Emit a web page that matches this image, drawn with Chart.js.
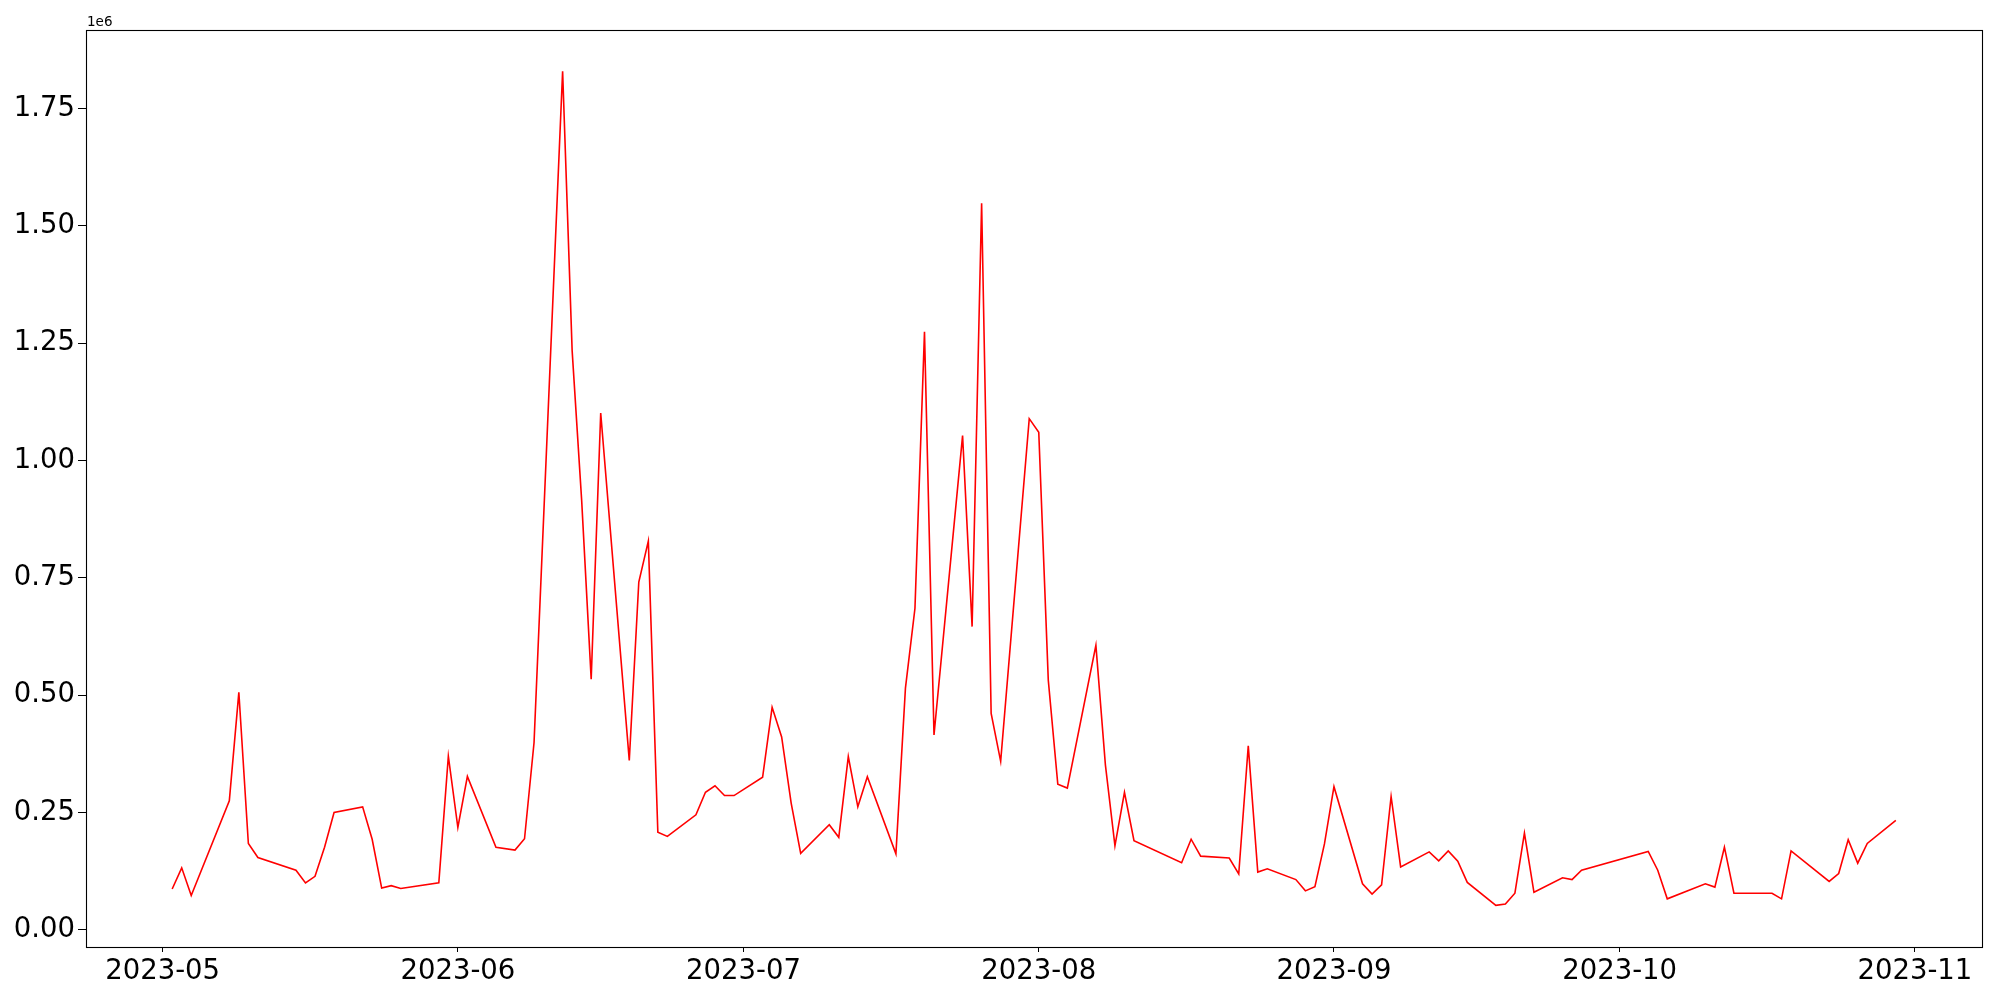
<!DOCTYPE html>
<html>
<head>
<meta charset="utf-8">
<script src="https://cdn.jsdelivr.net/npm/chart.js@4.4.1/dist/chart.umd.min.js"></script>
<style>
    html, body { margin: 0; padding: 0; background: #fff; }
    #wrap { width: 2000px; height: 1000px; }
</style>
</head>
<body>
<div id="wrap"><canvas id="chart" width="2000" height="1000"></canvas></div>
<script>
// Data (daily values, weekdays with gaps)
const dates = [
    '2023-05-02', '2023-05-03', '2023-05-04', '2023-05-08', '2023-05-09', '2023-05-10', '2023-05-11',
    '2023-05-15', '2023-05-16', '2023-05-17', '2023-05-18', '2023-05-19', '2023-05-22', '2023-05-23',
    '2023-05-24', '2023-05-25', '2023-05-26', '2023-05-30', '2023-05-31', '2023-06-01', '2023-06-02',
    '2023-06-05', '2023-06-07', '2023-06-08', '2023-06-09', '2023-06-12', '2023-06-13', '2023-06-14',
    '2023-06-15', '2023-06-16', '2023-06-19', '2023-06-20', '2023-06-21', '2023-06-22', '2023-06-23',
    '2023-06-26', '2023-06-27', '2023-06-28', '2023-06-29', '2023-06-30', '2023-07-03', '2023-07-04',
    '2023-07-05', '2023-07-06', '2023-07-07', '2023-07-10', '2023-07-11', '2023-07-12', '2023-07-13',
    '2023-07-14', '2023-07-17', '2023-07-18', '2023-07-19', '2023-07-20', '2023-07-21', '2023-07-24',
    '2023-07-25', '2023-07-26', '2023-07-27', '2023-07-28', '2023-07-31', '2023-08-01', '2023-08-02',
    '2023-08-03', '2023-08-04', '2023-08-07', '2023-08-08', '2023-08-09', '2023-08-10', '2023-08-11',
    '2023-08-16', '2023-08-17', '2023-08-18', '2023-08-21', '2023-08-22', '2023-08-23', '2023-08-24',
    '2023-08-25', '2023-08-28', '2023-08-29', '2023-08-30', '2023-08-31', '2023-09-01', '2023-09-04',
    '2023-09-05', '2023-09-06', '2023-09-07', '2023-09-08', '2023-09-11', '2023-09-12', '2023-09-13',
    '2023-09-14', '2023-09-15', '2023-09-18', '2023-09-19', '2023-09-20', '2023-09-21', '2023-09-22',
    '2023-09-25', '2023-09-26', '2023-09-27', '2023-10-04', '2023-10-05', '2023-10-06', '2023-10-10',
    '2023-10-11', '2023-10-12', '2023-10-13', '2023-10-17', '2023-10-18', '2023-10-19', '2023-10-23',
    '2023-10-24', '2023-10-25', '2023-10-26', '2023-10-27', '2023-10-30'
];

const values = [
    87000, 132000, 73000, 275000, 506000, 184000, 154000,
    127000, 100000, 114000, 176000, 250000, 262000, 193000,
    89000, 94000, 88000, 100000, 370000, 218000, 327000,
    176000, 170000, 194000, 399000, 1829000, 1234000, 915000,
    534000, 1101000, 361000, 741000, 828000, 208000, 199000,
    245000, 293000, 307000, 286000, 286000, 325000, 474000,
    411000, 270000, 163000, 224000, 197000, 369000, 262000,
    326000, 162000, 515000, 685000, 1274000, 415000, 1053000,
    646000, 1548000, 461000, 359000, 1089000, 1060000, 532000,
    310000, 302000, 606000, 351000, 179000, 293000, 190000,
    143000, 193000, 157000, 153000, 119000, 392000, 123000,
    130000, 107000, 83000, 92000, 183000, 305000, 98000,
    76000, 96000, 284000, 134000, 166000, 147000, 168000,
    146000, 101000, 52000, 55000, 78000, 206000, 80000,
    111000, 107000, 127000, 167000, 127000, 66000, 98000,
    91000, 176000, 78000, 78000, 66000, 168000, 103000,
    120000, 192000, 142000, 184000, 233000
];

// Tick labels
const monthTicks = ['2023-05', '2023-06', '2023-07', '2023-08', '2023-09', '2023-10', '2023-11'];
const yTicks = [0, 250000, 500000, 750000, 1000000, 1250000, 1500000, 1750000];

// day offsets from 2023-05-01 (UTC)
const DAY = 86400000;
const origin = Date.parse('2023-05-01');
const toDay = (s) => (Date.parse(s) - origin) / DAY;

const points = dates.map((d, i) => ({ x: toDay(d), y: values[i] }));
const monthDays = monthTicks.map(m => toDay(m + '-01'));

const FONT = 'DejaVu Sans';

// full frame + offset label like matplotlib
const framePlugin = {
    id: 'frame',
    afterDraw(chart) {
        const { ctx, chartArea: a } = chart;
        ctx.save();
        ctx.strokeStyle = '#000';
        ctx.lineWidth = 1.1;
        ctx.strokeRect(a.left + 0.5, a.top + 0.5, a.right - a.left, a.bottom - a.top);
        ctx.fillStyle = '#000';
        ctx.font = `13.5px "${FONT}"`;
        ctx.textAlign = 'left';
        ctx.textBaseline = 'alphabetic';
        ctx.fillText('1e6', a.left + 1, a.top - 4);
        ctx.restore();
    }
};

new Chart(document.getElementById('chart').getContext('2d'), {
    type: 'line',
    data: {
        datasets: [{
            data: points,
            borderColor: '#ff0000',
            borderWidth: 1.6,
            pointRadius: 0,
            tension: 0,
            fill: false
        }]
    },
    options: {
        responsive: false,
        animation: false,
        devicePixelRatio: 1,
        layout: { padding: { left: 0, top: 30, right: 18, bottom: 0 } },
        plugins: { legend: { display: false }, tooltip: { enabled: false } },
        scales: {
            x: {
                type: 'linear',
                min: -8.05,
                max: 191.05,
                afterBuildTicks: (axis) => { axis.ticks = monthDays.map(v => ({ value: v })); },
                afterFit: (axis) => { axis.height = 53; },
                grid: { drawOnChartArea: false, drawTicks: true, tickLength: 5, color: '#000' },
                border: { display: true, color: '#000', width: 1 },
                ticks: {
                    color: '#000',
                    font: { family: FONT, size: 27.5 },
                    padding: 3,
                    maxRotation: 0,
                    autoSkip: false,
                    callback: (v) => {
                        const i = monthDays.indexOf(v);
                        return i >= 0 ? monthTicks[i] : '';
                    }
                }
            },
            y: {
                type: 'linear',
                min: -36600,
                max: 1917000,
                afterBuildTicks: (axis) => { axis.ticks = yTicks.map(v => ({ value: v })); },
                afterFit: (axis) => { axis.width = 86; },
                grid: { drawOnChartArea: false, drawTicks: true, tickLength: 8, color: '#000' },
                border: { display: true, color: '#000', width: 1 },
                ticks: {
                    color: '#000',
                    font: { family: FONT, size: 27.5 },
                    padding: 3,
                    autoSkip: false,
                    callback: (v) => (v / 1e6).toFixed(2)
                }
            }
        }
    },
    plugins: [framePlugin]
});
</script>
</body>
</html>
